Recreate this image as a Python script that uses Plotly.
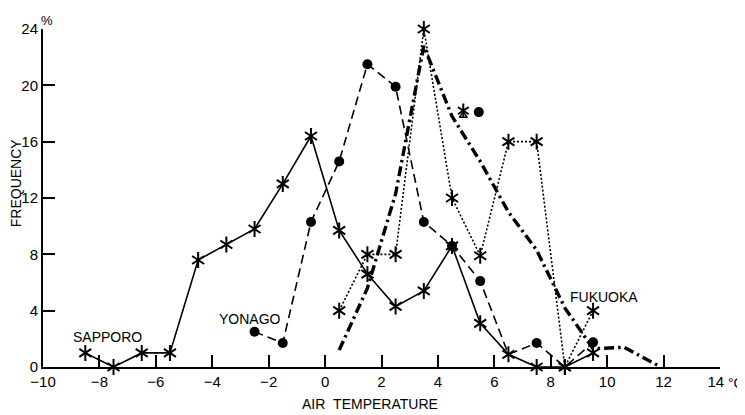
import plotly.graph_objects as go

# ---- data ----
sapporo_x = [-8.5, -7.5, -6.5, -5.5, -4.5, -3.5, -2.5, -1.5, -0.5, 0.5, 1.5, 2.5, 3.5, 4.5, 5.5, 6.5, 7.5, 8.5, 9.5]
sapporo_y = [1.0, 0.0, 1.0, 1.0, 7.6, 8.7, 9.8, 13.0, 16.4, 9.7, 6.6, 4.3, 5.4, 8.6, 3.1, 0.9, 0.0, 0.0, 1.0]

yonago_x = [-2.5, -1.5, -0.5, 0.5, 1.5, 2.5, 3.5, 4.5, 5.5, 6.5, 7.5, 8.5, 9.5]
yonago_y = [2.5, 1.7, 10.3, 14.6, 21.5, 19.9, 10.3, 8.6, 6.1, 0.9, 1.7, 0.0, 1.75]

fukuoka_x = [0.5, 1.5, 2.5, 3.5, 4.5, 5.5, 6.5, 7.5, 8.5, 9.5]
fukuoka_y = [4.0, 8.0, 8.0, 24.0, 12.0, 7.9, 16.0, 16.0, 0.0, 4.0]

dashdot_x = [0.5, 1.5, 2.5, 3.5, 4.5, 5.5, 6.5, 7.5, 8.5, 9.5, 10.6, 11.9]
dashdot_y = [1.2, 5.6, 12.3, 22.8, 17.8, 14.6, 11.0, 8.3, 4.2, 1.3, 1.4, 0.0]

extra_star = (4.9, 18.2)
extra_dot = (5.45, 18.1)

x_ticks = list(range(-10, 15, 2))
x_labels = ["\u2212" + str(-v) if v < 0 else str(v) for v in x_ticks]
x_labels[-1] = x_labels[-1] + "\u00a0\u00a0"
y_ticks = list(range(0, 25, 4))

# ---- figure ----
BLACK = "black"
fig = go.Figure()

def line(xs, ys, width, dash):
    fig.add_trace(go.Scatter(x=xs, y=ys, mode="lines",
                             line=dict(color=BLACK, width=width, dash=dash),
                             hoverinfo="skip", cliponaxis=False))

def stars(xs, ys, size=10):
    for sym in ("y-up-open", "y-down-open"):
        fig.add_trace(go.Scatter(x=xs, y=ys, mode="markers",
                                 marker=dict(symbol=sym, size=size, color=BLACK, opacity=1,
                                             line=dict(color=BLACK, width=2)),
                                 hoverinfo="skip", cliponaxis=False))

def dots(xs, ys, sizes):
    fig.add_trace(go.Scatter(x=xs, y=ys, mode="markers",
                             marker=dict(symbol="circle", size=sizes, color=BLACK, opacity=1,
                                         line=dict(width=0)),
                             hoverinfo="skip", cliponaxis=False))

line(sapporo_x, sapporo_y, 1.6, "solid")
line(yonago_x, yonago_y, 1.6, "9px,5px")
line(fukuoka_x, fukuoka_y, 1.6, "2px,2px")
line(dashdot_x, dashdot_y, 3.4, "10px,4px,2.5px,4px")

stars(sapporo_x, sapporo_y)
stars(fukuoka_x, fukuoka_y)
yonago_sizes = [0 if x in (6.5, 8.5) else 10 for x in yonago_x]
dots(yonago_x, yonago_y, yonago_sizes)

# floating symbols
stars([extra_star[0]], [extra_star[1]], size=9)
fig.add_trace(go.Scatter(x=[extra_star[0]], y=[extra_star[1] - 0.35], mode="markers",
                         marker=dict(symbol="triangle-up-open", size=7, color=BLACK,
                                     line=dict(color=BLACK, width=1.5)),
                         hoverinfo="skip", cliponaxis=False))
dots([extra_dot[0]], [extra_dot[1]], 10)

axis_common = dict(showline=True, linewidth=2, linecolor=BLACK, ticks="inside",
                   ticklen=12, tickwidth=1.5, tickcolor=BLACK, showgrid=False,
                   zeroline=False, tickfont=dict(size=15, color=BLACK))

# the page has an 8px body margin, so the figure is offset by (8, 8)
OFF = 8
fig.update_layout(
    width=745 - OFF, height=415 - OFF,
    margin=dict(l=43 - OFF, r=25, t=23 - OFF, b=48),
    paper_bgcolor="white", plot_bgcolor="white",
    showlegend=False,
    font=dict(family="Liberation Sans, Arial, sans-serif", size=14, color=BLACK),
    xaxis=dict(range=[-10, 14], tickvals=x_ticks, ticktext=x_labels, **axis_common),
    yaxis=dict(range=[0, 24], tickvals=y_ticks, **axis_common),
)

def px2paper(px, py):
    return (px - 43) / 677.0, (367 - py) / 344.0

annos = [
    ("SAPPORO", -7.7, 2.1),
    ("YONAGO", -2.65, 3.4),
    ("FUKUOKA", 9.9, 5.0),
]
for text, x, y in annos:
    fig.add_annotation(text=text, x=x, y=y, xref="x", yref="y", showarrow=False,
                       font=dict(size=14))

for text, px, py, ang, sz, xa in [
    ("AIR\u00a0\u00a0TEMPERATURE", 370, 405, 0, 14, "center"),
    ("FREQUENCY", 16, 180, -90, 14, "center"),
    ("%", 47, 14, 0, 13, "center"),
    ("°C", 727, 383, 0, 14, "left"),
]:
    xp, yp = px2paper(px, py)
    fig.add_annotation(text=text, x=xp, y=yp, xref="paper", yref="paper",
                       showarrow=False, font=dict(size=sz), textangle=ang,
                       xanchor=xa, yanchor="middle", borderpad=0)

fig.write_html("out.html")
